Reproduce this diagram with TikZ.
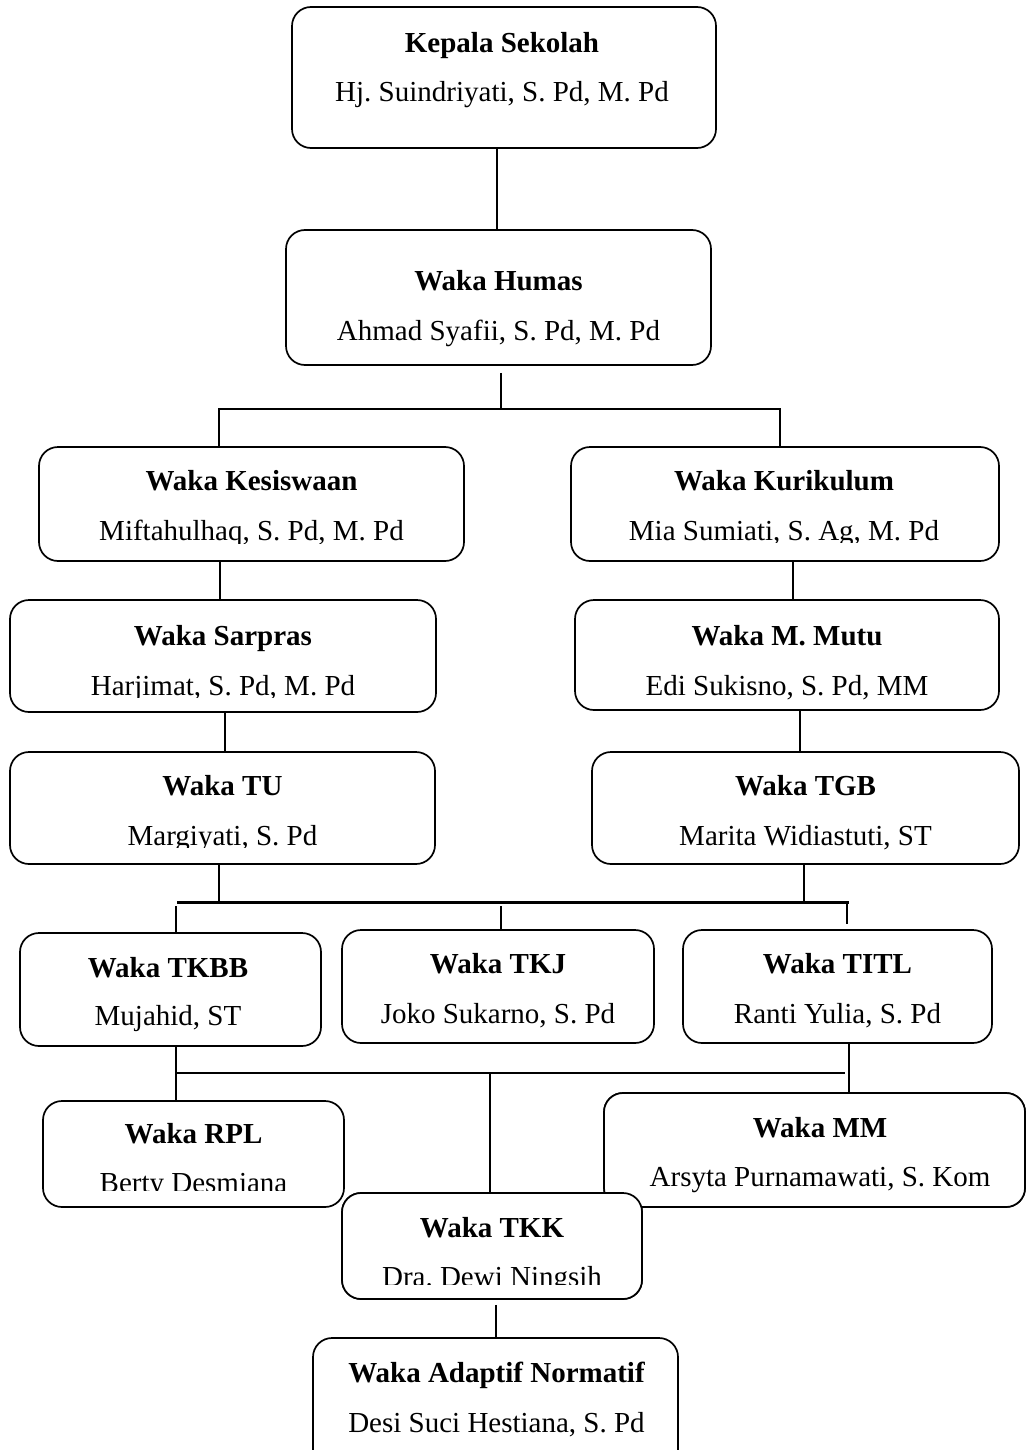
\documentclass[tikz,border=0pt]{standalone}
\usepackage{fontspec}
\setmainfont{Liberation Serif}
\frenchspacing
\begin{document}
\begin{tikzpicture}[x=1pt,y=-1pt]
\tikzset{
 obox/.style={draw, line width=1.7pt, rounded corners=19pt, fill=white, inner sep=0pt, anchor=center},
 ttl/.style={anchor=base, inner sep=0pt, font=\fontsize{29}{34}\selectfont\bfseries},
 nm/.style={anchor=base, inner sep=0pt, font=\fontsize{29}{34}\selectfont},
 conn/.style={line width=1.3pt},
 bus/.style={line width=3pt},
 lbus/.style={line width=1.8pt},
}
\useasboundingbox (0,0) rectangle (1027,1450);
\clip (0,0) rectangle (1027,1450);

% ---------- boxes (shapes) ----------
\node[obox, minimum width=424pt, minimum height=141pt] (kepala) at (504,77.5) {};
\node[obox, minimum width=425pt, minimum height=135pt] (humas) at (498.5,297.5) {};
\node[obox, minimum width=425pt, minimum height=114pt] (kesis) at (251.5,504) {};
\node[obox, minimum width=428pt, minimum height=114pt] (kurik) at (785,504) {};
\node[obox, minimum width=426pt, minimum height=112pt] (sarpras) at (223,656) {};
\node[obox, minimum width=424pt, minimum height=110pt] (mutu) at (787,655) {};
\node[obox, minimum width=425pt, minimum height=112pt] (tu) at (222.5,808) {};
\node[obox, minimum width=427pt, minimum height=112pt] (tgb) at (805.5,808) {};
\node[obox, minimum width=301pt, minimum height=113pt] (tkbb) at (170.5,989.5) {};
\node[obox, minimum width=312pt, minimum height=113pt] (tkj) at (498,986.5) {};
\node[obox, minimum width=309pt, minimum height=113pt] (titl) at (837.5,986.5) {};
\node[obox, minimum width=301pt, minimum height=106pt] (rpl) at (193.5,1154) {};
\node[obox, minimum width=421pt, minimum height=114pt] (mm) at (814.5,1150) {};
\node[obox, minimum width=300pt, minimum height=106pt] (tkk) at (492,1246) {};
\node[obox, minimum width=365pt, minimum height=132pt] (adapt) at (495.5,1404) {};

% ---------- connectors ----------
\draw[conn] (497,0 |- kepala.south) -- (497,0 |- humas.north);
\coordinate (hj) at (501,409);
\draw[conn, shorten <=7pt] (hj |- humas.south) -- (hj);
\draw[conn] (219,0 |- kesis.north) |- (hj) -| (780,0 |- kurik.north);
\draw[conn] (220,0 |- kesis.south) -- (220,0 |- sarpras.north);
\draw[conn] (793,0 |- kurik.south) -- (793,0 |- mutu.north);
\draw[conn] (225,0 |- sarpras.south) -- (225,0 |- tu.north);
\draw[conn] (800,0 |- mutu.south) -- (800,0 |- tgb.north);

\coordinate (busL) at (177,902);
\coordinate (busR) at (849,902);
\draw[bus] (busL) -- (busR);
\draw[conn] (219,0 |- tu.south) -- (219,0 |- busL);
\draw[conn] (804,0 |- tgb.south) -- (804,0 |- busL);
\draw[conn, shorten <=4pt] (176,0 |- busL) -- (176,0 |- tkbb.north);
\draw[conn, shorten <=4pt] (501,0 |- busL) -- (501,0 |- tkj.north);
\draw[conn, shorten >=5pt] (847,0 |- busL) -- (847,0 |- titl.north);

\coordinate (lj) at (490,1073);
\draw[conn] (176,0 |- tkbb.south) -- (176,0 |- rpl.north);
\draw[lbus] (176,0 |- lj) -- (845,0 |- lj);
\draw[conn] (lj) -- (lj |- tkk.north);
\draw[conn] (849,0 |- titl.south) -- (849,0 |- mm.north);
\draw[conn, shorten <=5pt] (496,0 |- tkk.south) -- (496,0 |- adapt.north);

% redraw boxes that overlap (TKK over MM)
\node[obox, minimum width=421pt, minimum height=114pt] at (814.5,1150) {};
\node[obox, minimum width=300pt, minimum height=106pt] at (492,1246) {};

% ---------- texts ----------
\node[ttl] (kepalaT) at (502,53) {Kepala Sekolah};
\node[nm] (kepalaN) at (502,102) {Hj.\ Suindriyati, S.\ Pd, M.\ Pd};

\node[ttl] (humasT) at (498.5,290) {Waka Humas};
\node[nm] (humasN) at (498.5,340) {Ahmad Syafii, S.\ Pd, M.\ Pd};

\node[ttl] (kesisT) at (251.5,490) {Waka Kesiswaan};
\begin{scope}
\clip (39,447) rectangle (464,543);
\node[nm] (kesisN) at (251.5,540) {Miftahulhaq, S.\ Pd, M.\ Pd};
\end{scope}

\node[ttl] (kurikT) at (784,490) {Waka Kurikulum};
\begin{scope}
\clip (571,447) rectangle (999,542.5);
\node[nm] (kurikN) at (784,540) {Mia Sumiati, S.\ Ag, M.\ Pd};
\end{scope}

\node[ttl] (sarprasT) at (223,645) {Waka Sarpras};
\begin{scope}
\clip (10,600) rectangle (436,697.5);
\node[nm] (sarprasN) at (223,695) {Harjimat, S.\ Pd, M.\ Pd};
\end{scope}

\node[ttl] (mutuT) at (787,645) {Waka M.\ Mutu};
\node[nm] (mutuN) at (787,695) {Edi Sukisno, S.\ Pd, MM};

\node[ttl] (tuT) at (222.5,795) {Waka TU};
\begin{scope}
\clip (10,752) rectangle (435,847.5);
\node[nm] (tuN) at (222.5,845) {Margiyati, S.\ Pd};
\end{scope}

\node[ttl] (tgbT) at (805.5,795) {Waka TGB};
\node[nm] (tgbN) at (805.5,845) {Marita Widiastuti, ST};

\node[ttl] (tkbbT) at (168,977) {Waka TKBB};
\node[nm] (tkbbN) at (168,1025) {Mujahid, ST};

\node[ttl] (tkjT) at (498,973) {Waka TKJ};
\node[nm] (tkjN) at (498,1023) {Joko Sukarno, S.\ Pd};

\node[ttl] (titlT) at (837.5,973) {Waka TITL};
\node[nm] (titlN) at (837.5,1023) {Ranti Yulia, S.\ Pd};

\node[ttl] (rplT) at (193.5,1143) {Waka RPL};
\begin{scope}
\clip (43,1101) rectangle (344,1190);
\node[nm] (rplN) at (193.5,1192) {Berty Desmiana};
\end{scope}

\node[ttl] (mmT) at (820,1137) {Waka MM};
\node[nm] (mmN) at (820,1186) {Arsyta Purnamawati, S.\ Kom};

\node[ttl] (tkkT) at (492,1237) {Waka TKK};
\begin{scope}
\clip (342,1193) rectangle (642,1284);
\node[nm] (tkkN) at (492,1286) {Dra.\ Dewi Ningsih};
\end{scope}

\node[ttl] (adaptT) at (496.5,1382) {Waka Adaptif Normatif};
\node[nm] (adaptN) at (496.5,1432) {Desi Suci Hestiana, S.\ Pd};
\end{tikzpicture}
\end{document}
